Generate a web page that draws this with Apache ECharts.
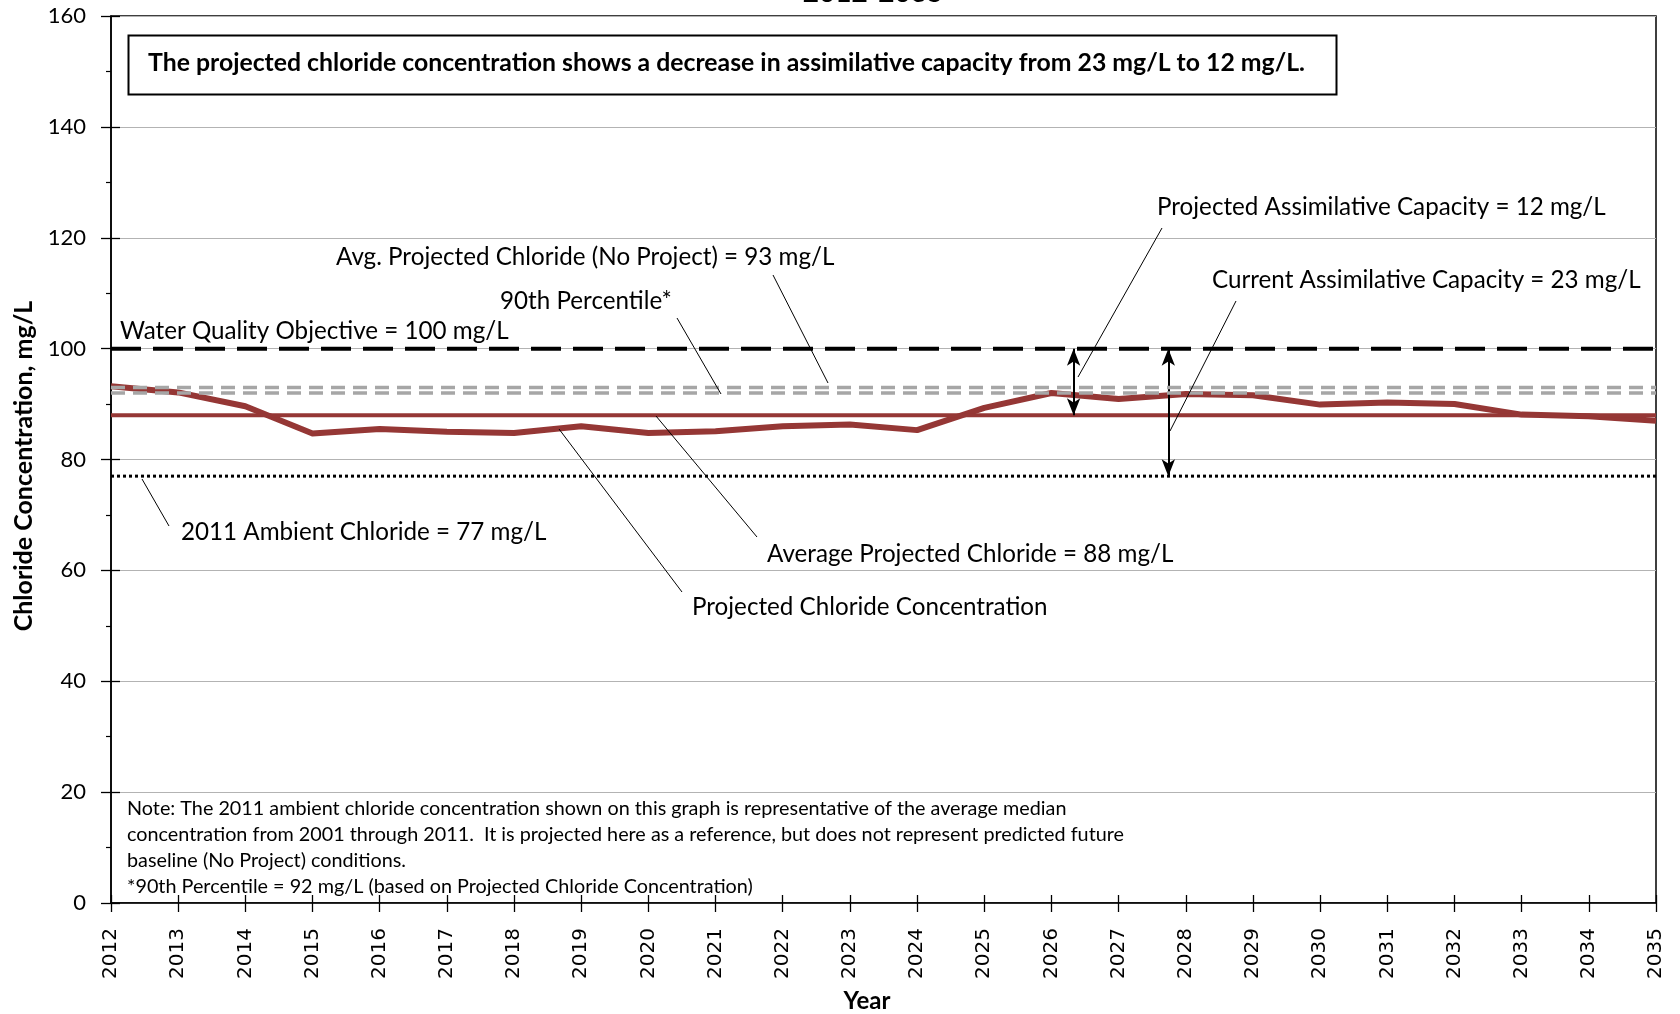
<!DOCTYPE html>
<html><head><meta charset="utf-8">
<script src="https://cdn.jsdelivr.net/npm/echarts@6/dist/echarts.min.js"></script>
<style>html,body{margin:0;padding:0;background:#fff}#c{width:1680px;height:1014px}</style>
</head><body><div id="c"></div>
<script>
// ---- data ----
const years = [2012,2013,2014,2015,2016,2017,2018,2019,2020,2021,2022,2023,2024,2025,2026,2027,2028,2029,2030,2031,2032,2033,2034,2035];
const projectedChloride = [93.2,92.1,89.6,84.7,85.5,85.0,84.8,86.0,84.8,85.1,86.0,86.3,85.3,89.3,92.0,90.9,91.8,91.6,89.9,90.3,90.0,88.1,87.8,87.0];
const waterQualityObjective = 100;
const avgNoProject = 93;
const percentile90 = 92;
const avgProjected = 88;
const ambient2011 = 77;
const projCapacityYear = 2026.33;
const currCapacityYear = 2027.74;
const yTickValues = [0,20,40,60,80,100,120,140,160];

const FONT = 'Lato';
const RED = '#953735';
const X0 = years[0], X1 = years[years.length - 1];
const hline = v => [[X0, v], [X1, v]];

const chart = echarts.init(document.getElementById('c'), null, {renderer: 'canvas'});

const annotations = [
  {t: 'Water Quality Objective = 100 mg/L', x: 120, y: 331},
  {t: 'Avg. Projected Chloride (No Project) = 93 mg/L', x: 336, y: 257},
  {t: '90th Percentile*', x: 500, y: 301},
  {t: 'Projected Assimilative Capacity = 12 mg/L', x: 1157, y: 207},
  {t: 'Current Assimilative Capacity = 23 mg/L', x: 1212, y: 280},
  {t: '2011 Ambient Chloride = 77 mg/L', x: 181, y: 532},
  {t: 'Average Projected Chloride = 88 mg/L', x: 767, y: 554},
  {t: 'Projected Chloride Concentration', x: 692, y: 607}
];
const leaders = [
  [773, 275, 828, 383],
  [677, 318, 721, 394],
  [1162, 228, 1078, 377],
  [1236, 301, 1170, 431],
  [169, 526, 142, 479],
  [757, 537, 656, 416],
  [682, 592, 559, 429]
];

const graphics = [];
annotations.forEach(a => graphics.push({
  type: 'text', x: a.x, y: a.y, z: 50,
  style: {text: a.t, fontFamily: FONT, fontSize: 24.2, fill: '#000', textVerticalAlign: 'middle', textAlign: 'left'}
}));
leaders.forEach(l => graphics.push({
  type: 'line', z: 50, shape: {x1: l[0], y1: l[1], x2: l[2], y2: l[3]},
  style: {stroke: '#000', lineWidth: 1}
}));
graphics.push({type: 'rect', z: 40, shape: {x: 128.5, y: 35.5, width: 1208, height: 59},
  style: {fill: '#fff', stroke: '#000', lineWidth: 2}});
graphics.push({type: 'text', z: 41, x: 148, y: 63,
  style: {text: 'The projected chloride concentration shows a decrease in assimilative capacity from 23 mg/L to 12 mg/L.',
    fontFamily: FONT, fontWeight: 'bold', fontSize: 24.8, fill: '#000', textVerticalAlign: 'middle'}});
graphics.push({type: 'text', z: 41, x: 127, y: 795,
  style: {text: 'Note: The 2011 ambient chloride concentration shown on this graph is representative of the average median\nconcentration from 2001 through 2011.  It is projected here as a reference, but does not represent predicted future\nbaseline (No Project) conditions.\n*90th Percentile = 92 mg/L (based on Projected Chloride Concentration)',
    fontFamily: FONT, fontSize: 19.8, lineHeight: 26.3, fill: '#000', textVerticalAlign: 'top'}});
graphics.push({type: 'text', z: 41, x: 873, y: -7,
  style: {text: '2012-2035', fontFamily: FONT, fontWeight: 'bold', fontSize: 28, fill: '#000', textAlign: 'center', textVerticalAlign: 'middle'}});
graphics.push({type: 'text', z: 41, x: 867, y: 1001,
  style: {text: 'Year', fontFamily: FONT, fontWeight: 'bold', fontSize: 24, fill: '#000', textAlign: 'center', textVerticalAlign: 'middle'}});
graphics.push({type: 'text', z: 41, x: 23.5, y: 466, rotation: Math.PI / 2,
  style: {text: 'Chloride Concentration, mg/L', fontFamily: FONT, fontWeight: 'bold', fontSize: 25, fill: '#000', textAlign: 'center', textVerticalAlign: 'middle'}});

const option = {
  animation: false,
  backgroundColor: '#fff',
  grid: {left: 111, right: 24, top: 16, bottom: 111, show: true, borderColor: '#000', borderWidth: 1.5, containLabel: false},
  xAxis: [{
    type: 'value', min: X0, max: X1, interval: 1,
    axisLine: {show: true, onZero: false, lineStyle: {color: '#000', width: 1.5}},
    axisTick: {show: true, length: 9, lineStyle: {color: '#000', width: 1.3}},
    axisLabel: {rotate: 90, fontFamily: 'DejaVu Sans', fontSize: 20, color: '#000', margin: 25, formatter: v => String(v)},
    splitLine: {show: false}
  }, {
    type: 'value', min: X0, max: X1, interval: 1, position: 'bottom',
    axisLine: {show: false}, axisTick: {show: true, inside: true, length: 8, lineStyle: {color: '#000', width: 1.3}},
    axisLabel: {show: false}, splitLine: {show: false}
  }],
  yAxis: [{
    type: 'value', min: yTickValues[0], max: yTickValues[yTickValues.length - 1], interval: 20,
    axisLine: {show: true, lineStyle: {color: '#000', width: 1.5}},
    axisTick: {show: true, length: 10, lineStyle: {color: '#000', width: 1.3}},
    minorTick: {show: true, splitNumber: 2, length: 5, lineStyle: {color: '#000', width: 1.2}},
    axisLabel: {fontFamily: FONT, fontSize: 22, color: '#000', margin: 25},
    splitLine: {show: true, lineStyle: {color: '#b3b3b3', width: 1.2}}
  }, {
    type: 'value', min: yTickValues[0], max: yTickValues[yTickValues.length - 1], interval: 20, position: 'left',
    axisLine: {show: false}, axisTick: {show: true, inside: true, length: 9, lineStyle: {color: '#000', width: 1.3}},
    axisLabel: {show: false}, splitLine: {show: false}
  }],
  series: [
    {name: 'Projected Chloride Concentration', type: 'line', symbol: 'none', z: 3,
      data: years.map((y, i) => [y, projectedChloride[i]]),
      lineStyle: {color: RED, width: 6, join: 'round'}},
    {name: 'Average Projected', type: 'line', symbol: 'none', z: 4, data: hline(avgProjected),
      lineStyle: {color: RED, width: 4}},
    {name: '90th Percentile', type: 'line', symbol: 'none', z: 5, data: hline(percentile90),
      lineStyle: {color: '#a6a6a6', width: 3.5, type: [14, 8]}},
    {name: 'Avg No Project', type: 'line', symbol: 'none', z: 5, data: hline(avgNoProject),
      lineStyle: {color: '#a6a6a6', width: 3.5, type: [14, 8]}},
    {name: 'WQO', type: 'line', symbol: 'none', z: 6, data: hline(waterQualityObjective),
      lineStyle: {color: '#000', width: 4, type: [30, 12]}},
    {name: 'Ambient 2011', type: 'line', symbol: 'none', z: 6, data: hline(ambient2011),
      lineStyle: {color: '#000', width: 3, type: [3, 3]}},
    {name: 'arrows', type: 'line', data: [], z: 7,
      markLine: {silent: true, symbol: ['arrow', 'arrow'], symbolSize: [10, 17], label: {show: false},
        lineStyle: {color: '#000', width: 2, type: 'solid'},
        data: [
          [{coord: [projCapacityYear, waterQualityObjective]}, {coord: [projCapacityYear, avgProjected]}],
          [{coord: [currCapacityYear, waterQualityObjective]}, {coord: [currCapacityYear, ambient2011]}]
        ]}}
  ],
  graphic: graphics
};
chart.setOption(option);
</script></body></html>
